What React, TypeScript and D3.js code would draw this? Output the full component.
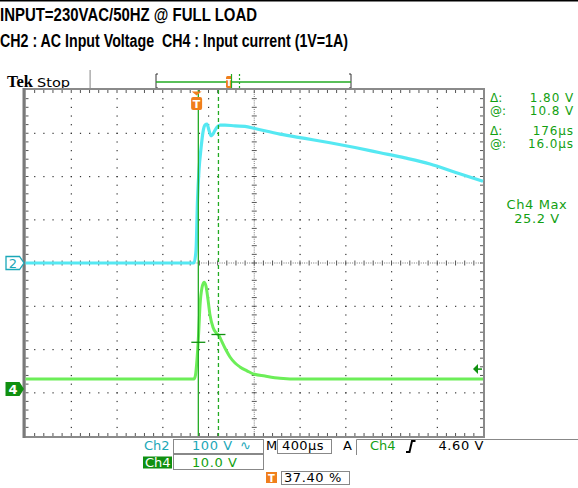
import React from "react";
import * as d3 from "d3";

// ---------- data ----------
const titleLine1 = "INPUT=230VAC/50HZ @ FULL LOAD";
const titleLine2a = "CH2 : AC Input Voltage";
const titleLine2b = "CH4 : Input current (1V=1A)";

// Ch2 (AC input voltage, 100 V/div) time in µs from left edge, value in V
const ch2Time = [0, 1473, 1491, 1504, 1517, 1535, 1552, 1570, 1587, 1604, 1622, 1639, 1657, 1674, 1700, 1744, 1832, 1919, 2006, 2225, 2443, 2662, 2881, 3100, 3318, 3537, 3755, 4000];
const ch2Volt = [0, 0, 30, 146, 215, 266, 303, 319, 321, 307, 294, 298, 307, 314, 319, 319, 317, 316, 311, 298, 288, 278, 267, 255, 243, 229, 210, 189];

// Ch4 (input current, 10 V/div)
const ch4Time = [0, 1473, 1486, 1499, 1513, 1526, 1543, 1561, 1578, 1596, 1613, 1639, 1666, 1692, 1718, 1753, 1788, 1832, 1875, 1937, 1989, 2094, 2225, 2400, 4000];
const ch4Volt = [2.3, 2.3, 3.2, 6.7, 12.5, 19.4, 23.4, 24.7, 23.8, 20.6, 17.1, 14.3, 13.0, 12.3, 10.9, 9.0, 7.4, 6.0, 5.1, 4.2, 3.5, 3.0, 2.5, 2.3, 2.3];

const timePerDiv = 400; // µs
const triggerPct = 37.4;
const triggerLevel = 4.6; // V on Ch4
const cursorT1 = 1511; // µs
const cursorDeltaT = 176; // µs
const cursorV1 = 10.8; // V
const cursorDeltaV = 1.8; // V

const readoutLeft = ["Δ:", "@:", "Δ:", "@:"];
const readoutRight = ["1.80 V", "10.8 V", "176µs", "16.0µs"];

// ---------- layout ----------
const W = 578, H = 488;
const X0 = 25.5, X1 = 483, Y0 = 90, Y1 = 436;
const NX = 10, NY = 8;

const CYAN = "#55e8f2";
const CYAN_TXT = "#1aa7b8";
const GREEN = "#6cee58";
const GREEN_TXT = "#12a012";
const GREEN_DARK = "#109010";
const ORANGE = "#f07f1c";
const CURSOR = "#22aa22";

export default function App() {
  const x = d3.scaleLinear().domain([0, timePerDiv * NX]).range([X0, X1]);
  const y2 = d3.scaleLinear().domain([-400, 400]).range([Y1, Y0]);
  const y4 = d3.scaleLinear().domain([0, 10]).range([389, 389 - (Y1 - Y0) / NY]);

  const dx = (X1 - X0) / NX, dy = (Y1 - Y0) / NY;
  const cx = (X0 + X1) / 2, cy = (Y0 + Y1) / 2;

  const line2 = d3.line<number>().x((_, i) => x(ch2Time[i])).y((v) => y2(v)).curve(d3.curveMonotoneX);
  const line4 = d3.line<number>().x((_, i) => x(ch4Time[i])).y((v) => y4(v)).curve(d3.curveMonotoneX);

  // grid dots
  const dots: JSX.Element[] = [];
  for (let i = 1; i < NX; i++) {
    if (i === NX / 2) continue;
    const gx = X0 + i * dx;
    for (let k = 1; k < NY * 5; k++) {
      const gy = Y0 + (k * dy) / 5;
      dots.push(<rect key={`v${i}-${k}`} x={gx - 0.5} y={gy - 0.5} width={1.2} height={1.2} fill="#333" />);
    }
  }
  for (let j = 1; j < NY; j++) {
    if (j === NY / 2) continue;
    const gy = Y0 + j * dy;
    for (let k = 1; k < NX * 5; k++) {
      const gx = X0 + (k * dx) / 5;
      dots.push(<rect key={`h${j}-${k}`} x={gx - 0.5} y={gy - 0.5} width={1.2} height={1.2} fill="#333" />);
    }
  }
  // center crosshair
  for (let k = 1; k < NY * 20; k++) {
    const gy = Y0 + (k * dy) / 20;
    const major = k % 4 === 0;
    dots.push(
      <rect key={`cv${k}`} x={cx - (major ? 2.5 : 0.5)} y={gy - 0.5} width={major ? 5 : 1} height={1} fill={major ? "#555" : "#777"} />
    );
  }
  for (let k = 1; k < NX * 20; k++) {
    const gx = X0 + (k * dx) / 20;
    const major = k % 4 === 0;
    dots.push(
      <rect key={`ch${k}`} x={gx - 0.5} y={cy - (major ? 2.5 : 0.5)} width={1} height={major ? 5 : 1} fill={major ? "#555" : "#777"} />
    );
  }
  // frame ticks
  for (let k = 1; k < NX * 5; k++) {
    const gx = X0 + (k * dx) / 5;
    dots.push(<rect key={`ft${k}`} x={gx - 0.5} y={Y0} width={1} height={3} fill="#555" />);
    dots.push(<rect key={`fb${k}`} x={gx - 0.5} y={Y1 - 3} width={1} height={3} fill="#555" />);
  }
  for (let k = 1; k < NY * 5; k++) {
    const gy = Y0 + (k * dy) / 5;
    dots.push(<rect key={`fl${k}`} x={X0} y={gy - 0.5} width={3} height={1} fill="#555" />);
    dots.push(<rect key={`fr${k}`} x={X1 - 3} y={gy - 0.5} width={3} height={1} fill="#555" />);
  }

  const tTrig = (triggerPct / 100) * timePerDiv * NX;
  const xTrig = x(tTrig);
  const xc1 = x(cursorT1);
  const xc2 = x(cursorT1 + cursorDeltaT);
  const yc1 = y4(cursorV1);
  const yc2 = y4(cursorV1 + cursorDeltaV);
  const yTl = y4(triggerLevel);

  const roFont = "'DejaVu Sans', sans-serif";
  const roY = [101.5, 114.5, 135, 148];

  return (
    <svg width={W} height={H} style={{ position: "absolute", left: 0, top: 0 }}>
      <rect width={W} height={H} fill="#fff" />
      <rect x={0} y={0} width={W} height={1.5} fill="#000" />
      {/* titles */}
      <text x={0} y={20.5} fontFamily="'Liberation Sans', Arial, sans-serif" fontWeight="bold" fontSize={18} textLength={257} lengthAdjust="spacingAndGlyphs">{titleLine1}</text>
      <text x={0} y={47} fontFamily="'Liberation Sans', Arial, sans-serif" fontWeight="bold" fontSize={18} textLength={348} lengthAdjust="spacingAndGlyphs" style={{ whiteSpace: "pre" }}>{`${titleLine2a}  ${titleLine2b}`}</text>

      {/* Tek Stop */}
      <text x={7} y={87} fontFamily="'Liberation Serif', serif" fontWeight="bold" fontSize={17} textLength={26} lengthAdjust="spacingAndGlyphs">Tek</text>
      <text x={37} y={87} fontFamily="'DejaVu Sans', sans-serif" fontSize={13} textLength={33} lengthAdjust="spacingAndGlyphs">Stop</text>
      <rect x={89.5} y={70} width={1.2} height={18} fill="#999" />

      {/* record bar */}
      <path d="M158,74 L156,74 L156,88 L158,88" fill="none" stroke="#333" strokeWidth={1} />
      <path d="M349,74 L351,74 L351,88 L349,88" fill="none" stroke="#333" strokeWidth={1} />
      <line x1={156} x2={351} y1={82} y2={82} stroke={CURSOR} strokeWidth={1.3} />
      <rect x={226} y={76} width={6} height={12} rx={1.5} fill={ORANGE} />
      <text x={229} y={86} fill="#fff" fontSize={9} fontWeight="bold" textAnchor="middle" fontFamily="'DejaVu Sans', sans-serif">T</text>
      <line x1={231.5} x2={231.5} y1={74} y2={88} stroke={CURSOR} strokeWidth={1.2} />
      <line x1={239.5} x2={239.5} y1={74} y2={88} stroke={CURSOR} strokeWidth={1.2} strokeDasharray="2,2" />

      {/* graticule */}
      {dots}
      <rect x={X0 - 1} y={Y0 - 1} width={X1 - X0 + 2} height={Y1 - Y0 + 2} fill="none" stroke="#8a8a8a" strokeWidth={2} />
      <rect x={22.5} y={Y0 - 2} width={3} height={Y1 - Y0 + 4} fill="#7a7a7a" />

      {/* traces */}
      <path d={line2(ch2Volt) || ""} fill="none" stroke={CYAN} strokeWidth={3.2} strokeLinejoin="round" />
      <path d={line4(ch4Volt) || ""} fill="none" stroke={GREEN} strokeWidth={3} strokeLinejoin="round" />

      {/* cursors */}
      <line x1={xc1} x2={xc1} y1={Y0} y2={Y1} stroke={CURSOR} strokeWidth={1.3} />
      <line x1={xc2} x2={xc2} y1={Y0} y2={Y1} stroke={CURSOR} strokeWidth={1.3} strokeDasharray="4,3" />
      <line x1={xc1 - 7} x2={xc1 + 7} y1={yc1} y2={yc1} stroke={GREEN_DARK} strokeWidth={1.3} />
      <line x1={xc2 - 7} x2={xc2 + 7} y1={yc2} y2={yc2} stroke={GREEN_DARK} strokeWidth={1.3} />

      {/* trigger marker */}
      <path d={`M${xTrig - 5},${Y0 + 1.5} L${xTrig + 5},${Y0 + 1.5} L${xTrig},${Y0 + 5.5} Z`} fill={ORANGE} />
      <rect x={xTrig - 5.5} y={97} width={11} height={13} rx={2} fill={ORANGE} />
      <text x={xTrig} y={108} fill="#fff" fontSize={11} fontWeight="bold" textAnchor="middle" fontFamily="'DejaVu Sans', sans-serif">T</text>

      {/* trigger level arrow */}
      <path d={`M${X1 - 10},${yTl} L${X1 - 5},${yTl - 5} L${X1 - 5},${yTl + 5} Z`} fill={GREEN_DARK} />
      <line x1={X1 - 6} x2={X1 - 1} y1={yTl} y2={yTl} stroke={GREEN_DARK} strokeWidth={1.5} />

      {/* channel markers */}
      <path d={`M6,${y2(0) - 6.5} L19.5,${y2(0) - 6.5} L24,${y2(0)} L19.5,${y2(0) + 6.5} L6,${y2(0) + 6.5} Z`} fill="#fff" stroke={CYAN_TXT} strokeWidth={1.3} />
      <text x={13} y={y2(0) + 5} fill={CYAN_TXT} fontSize={13} textAnchor="middle" fontFamily="'DejaVu Sans', sans-serif">2</text>
      <path d={`M5.5,${y4(0) - 7} L19.5,${y4(0) - 7} L24,${y4(0)} L19.5,${y4(0) + 7} L5.5,${y4(0) + 7} Z`} fill={GREEN_DARK} />
      <text x={13} y={y4(0) + 5} fill="#fff" fontSize={13} fontWeight="bold" textAnchor="middle" fontFamily="'DejaVu Sans', sans-serif">4</text>

      {/* right readouts */}
      {readoutLeft.map((t, i) => (
        <text key={`rl${i}`} x={490} y={roY[i]} fill={GREEN_TXT} fontSize={12} fontFamily={roFont}>{t}</text>
      ))}
      {readoutRight.map((t, i) => (
        <text key={`rr${i}`} x={574} y={roY[i]} fill={GREEN_TXT} fontSize={12} textAnchor="end" fontFamily={roFont} letterSpacing={0.9}>{t}</text>
      ))}
      <text x={537} y={209} fill={GREEN_TXT} fontSize={13} textAnchor="middle" fontFamily={roFont} letterSpacing={0.6}>Ch4 Max</text>
      <text x={537} y={223} fill={GREEN_TXT} fontSize={13} textAnchor="middle" fontFamily={roFont} letterSpacing={0.6}>25.2 V</text>

      {/* bottom readouts */}
      <text x={144} y={449.5} fill={CYAN_TXT} fontSize={13} fontFamily={roFont}>Ch2</text>
      <rect x={173.5} y={439.5} width={90} height={14} fill="none" stroke="#888" strokeWidth={1} />
      <text x={192} y={449.5} fill={CYAN_TXT} fontSize={13} fontFamily={roFont} letterSpacing={0.6}>100 V</text>
      <text x={240} y={449.5} fill={CYAN_TXT} fontSize={13} fontFamily={roFont}>∿</text>
      <text x={266} y={449.5} fill="#000" fontSize={13} fontFamily={roFont}>M</text>
      <rect x={277.5} y={439.5} width={54} height={14} fill="none" stroke="#888" strokeWidth={1} />
      <text x={282} y={449.5} fill="#000" fontSize={13} fontFamily={roFont} letterSpacing={0.4}>400µs</text>
      <text x={343} y={449.5} fill="#000" fontSize={13} fontFamily={roFont}>A</text>
      <path d="M356.5,455 L356.5,439.5 L578,439.5" fill="none" stroke="#888" strokeWidth={1} />
      <text x={370} y={449.5} fill={GREEN_TXT} fontSize={13} fontFamily={roFont}>Ch4</text>
      <path d="M406,452 L409.5,452 L412,441 L415.5,441" fill="none" stroke="#000" strokeWidth={2} />
      <text x={484} y={449.5} fill="#000" fontSize={13} textAnchor="end" fontFamily={roFont} letterSpacing={0.6}>4.60 V</text>

      <rect x={143} y={456.5} width={29} height={12} fill={GREEN_DARK} />
      <text x={145} y={466.5} fill="#fff" fontSize={13} fontFamily={roFont}>Ch4</text>
      <rect x={173.5} y={454.5} width={90} height={15} fill="none" stroke="#888" strokeWidth={1} />
      <text x={192} y={466.5} fill={GREEN_TXT} fontSize={13} fontFamily={roFont} letterSpacing={0.6}>10.0 V</text>

      <rect x={266} y={472} width={11} height={11} fill={ORANGE} />
      <text x={271.5} y={481.5} fill="#fff" fontSize={10} fontWeight="bold" textAnchor="middle" fontFamily={roFont}>T</text>
      <rect x={281.5} y={471.5} width={68} height={13} fill="none" stroke="#888" strokeWidth={1} />
      <text x={284} y={482} fill="#000" fontSize={13} fontFamily={roFont} letterSpacing={0.6}>37.40 %</text>
    </svg>
  );
}
